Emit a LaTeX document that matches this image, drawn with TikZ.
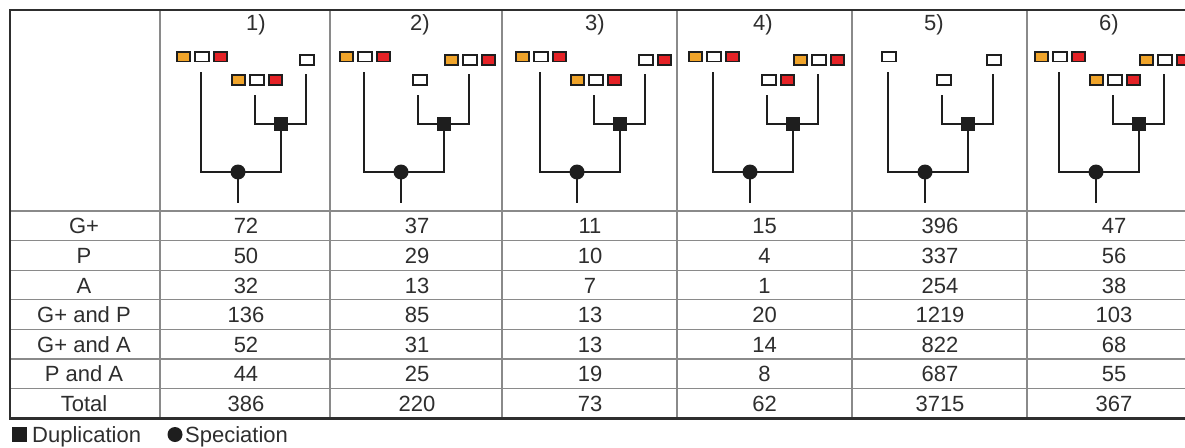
\documentclass[tikz,border=0pt]{standalone}
\usepackage{fontspec}
\setmainfont{Liberation Sans}
\usetikzlibrary{calc}
\definecolor{ink}{HTML}{2E2E2E}
\definecolor{gridc}{HTML}{8A8A8A}
\definecolor{gorange}{HTML}{F0A42A}
\definecolor{gred}{HTML}{E52226}
\definecolor{gdark}{HTML}{1E1E1E}
\tikzset{
  lbl/.style={font=\fontsize{22}{26}\selectfont, text=ink, inner sep=0pt},
  cell/.style={lbl, anchor=base},
  tbox/.style={draw=gdark, line width=1.8pt, minimum width=13.3pt, minimum height=9.8pt, inner sep=0pt},
  wbox/.style={tbox, fill=white},
  obox/.style={tbox, fill=gorange},
  rbox/.style={tbox, fill=gred},
  branch/.style={draw=gdark, line width=2.4pt},
  specn/.style={circle, fill=gdark, minimum size=15pt, inner sep=0pt},
  dupn/.style={rectangle, fill=gdark, minimum size=14pt, inner sep=0pt},
  innerl/.style={draw=gridc, line width=1.1pt},
  outerl/.style={draw=ink, line width=2.6pt, line join=miter},
}
% leaf: name, x, y, orange flag, red flag
\newcommand\gleaf[5]{%
  \node[wbox] (#1w) at (#2,#3) {};
  \ifnum#4=1 \node[obox] (#1o) at ($(#1w)+(-18.5,0)$) {};\fi
  \ifnum#5=1 \node[rbox] (#1r) at ($(#1w)+(18.5,0)$) {};\fi
}
% tree: id, x0, Lo, Lr, Mo, Mr, Ro, Rr
\newcommand\gtree[8]{%
  \gleaf{#1L}{#2+1}{56.5}{#3}{#4}
  \gleaf{#1M}{#2+56}{80}{#5}{#6}
  \gleaf{#1R}{#2+106}{60}{#7}{#8}
  \coordinate (#1lt) at (#2,72);
  \coordinate (#1mt) at (#2+54,95);
  \coordinate (#1rt) at (#2+105,74);
  \coordinate (#1root) at (#2+37,203);
  \node[specn] (#1s) at (#2+37,172) {};
  \node[dupn] (#1d) at (#2+80,124) {};
  \draw[branch] (#1lt) |- (#1s.center) -| (#1d.center);
  \draw[branch] (#1mt) |- (#1d.center) -| (#1rt);
  \draw[branch] (#1s.center) -- (#1root);
}
\begin{document}
\begin{tikzpicture}[x=1pt,y=-1pt]
\useasboundingbox (0,0) rectangle (1185,447);
% grid
\foreach \y in {240.6,270.2,299.8,329.4,359,388.6}
  \draw[innerl] (10,\y) -- (1185,\y);
\draw[innerl] (10,211) -- (1185,211);
\foreach \x in {160,330,502,677,852,1027}
  \draw[innerl] (\x,10) -- (\x,418.2);
\draw[outerl] (1185,10) -- (10,10) -- (10,418.2) -- (1185,418.2);
% headers
\node[lbl] (h1) at (256,25) {1)};
\node[lbl] (h2) at (420,25) {2)};
\node[lbl] (h3) at (595,25) {3)};
\node[lbl] (h4) at (763,25) {4)};
\node[lbl] (h5) at (934,25) {5)};
\node[lbl] (h6) at (1109,25) {6)};
% trees
\gtree{a}{201}{1}{1}{1}{1}{0}{0}
\gtree{b}{364}{1}{1}{0}{0}{1}{1}
\gtree{c}{540}{1}{1}{1}{1}{0}{1}
\gtree{d}{713}{1}{1}{0}{1}{1}{1}
\gtree{e}{888}{0}{0}{0}{0}{0}{0}
\gtree{f}{1059}{1}{1}{1}{1}{1}{1}
% table body
\foreach \lab/\va/\vb/\vc/\vd/\ve/\vf [count=\i] in {
  G+/72/37/11/15/396/47,
  P/50/29/10/4/337/56,
  A/32/13/7/1/254/38,
  G+ and P/136/85/13/20/1219/103,
  G+ and A/52/31/13/14/822/68,
  P and A/44/25/19/8/687/55,
  Total/386/220/73/62/3715/367}{
  \pgfmathsetmacro\yb{211+29.6*(\i-0.5)+8}
  \node[cell] (r\i x0) at (84,\yb) {\lab};
  \node[cell] (r\i x1) at (246,\yb) {\va};
  \node[cell] (r\i x2) at (417,\yb) {\vb};
  \node[cell] (r\i x3) at (590,\yb) {\vc};
  \node[cell] (r\i x4) at (764.5,\yb) {\vd};
  \node[cell] (r\i x5) at (940,\yb) {\ve};
  \node[cell] (r\i x6) at (1114,\yb) {\vf};
}
% legend
\node[dupn, minimum size=15pt] (legd) at (19.5,434.5) {};
\node[lbl, anchor=base west] (legdt) at (32,442) {Duplication};
\node[specn, minimum size=15pt] (legs) at (175,434.5) {};
\node[lbl, anchor=base west] (legst) at (185,442) {Speciation};
\end{tikzpicture}
\end{document}
